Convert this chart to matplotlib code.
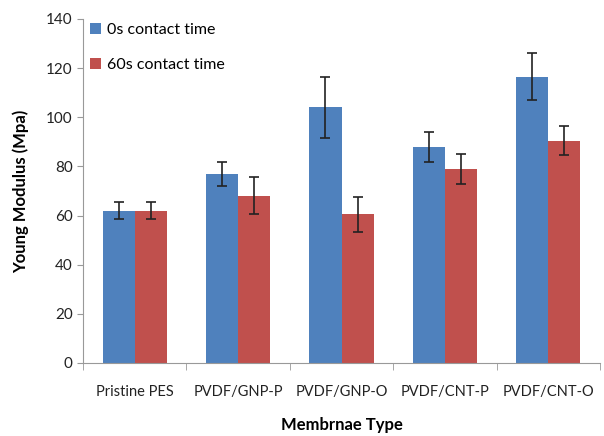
import numpy as np
import matplotlib.pyplot as plt

plt.rcParams['font.family'] = ['Lato', 'DejaVu Sans']

membranes = ["Pristine PES", "PVDF/GNP-P", "PVDF/GNP-O", "PVDF/CNT-P", "PVDF/CNT-O"]
modulus_0s = [62, 77, 104, 88, 116.5]
err_0s = [3.5, 5, 12.5, 6, 9.5]
modulus_60s = [62, 68, 60.5, 79, 90.5]
err_60s = [3.5, 7.5, 7, 6, 6]

blue = "#4f81bd"
red = "#c0504d"

fig = plt.figure(figsize=(6.04, 4.36), dpi=100)
ax = fig.add_axes([83 / 604, 1 - 363 / 436, 517 / 604, 344 / 436])

x = np.arange(len(membranes))
w = 0.31
ax.bar(x - w / 2, modulus_0s, w, color=blue, label="0s contact time",
       yerr=err_0s, error_kw=dict(ecolor="#222222", elinewidth=1.2, capsize=3.5, capthick=1.2))
ax.bar(x + w / 2, modulus_60s, w, color=red, label="60s contact time",
       yerr=err_60s, error_kw=dict(ecolor="#222222", elinewidth=1.2, capsize=3.5, capthick=1.2))

ax.set_xlim(-0.5, len(membranes) - 0.5)
ax.set_ylim(0, 140)
ax.set_yticks(range(0, 141, 20))
ax.set_xticks(x)
ax.set_xticklabels(membranes, fontsize=10.5, color="#222222")
ax.set_xticks(np.arange(-0.5, len(membranes)), minor=True)
ax.tick_params(axis="x", which="major", length=0, pad=16)
ax.tick_params(axis="x", which="minor", length=5, color="#999999")
ax.tick_params(axis="y", length=4, color="#999999", labelsize=11, labelcolor="#222222")

for s in ["top", "right"]:
    ax.spines[s].set_visible(False)
for s in ["left", "bottom"]:
    ax.spines[s].set_color("#999999")

ax.set_ylabel("Young Modulus (Mpa)", fontsize=12, fontweight="bold", labelpad=12)
ax.set_xlabel("Membrnae Type", fontsize=12, fontweight="bold", labelpad=13)

ax.legend(loc="upper left", bbox_to_anchor=(-0.015, 1.03), frameon=False, fontsize=11.5,
          handlelength=0.7, handleheight=0.7, handletextpad=0.4, labelspacing=1.3)

fig.savefig("out.png", dpi=100)
